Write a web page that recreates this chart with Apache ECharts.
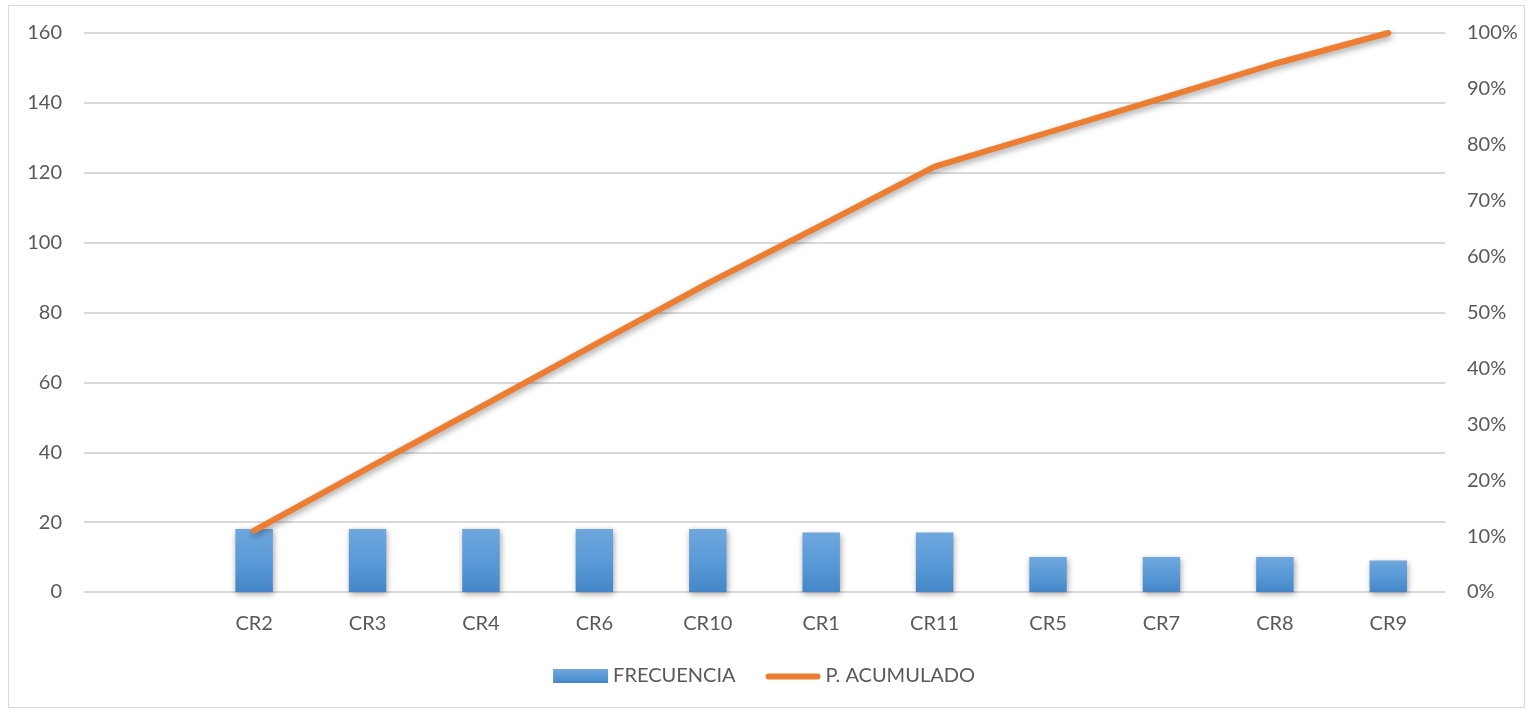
<!DOCTYPE html>
<html>
<head>
<meta charset="utf-8">
<script src="https://cdn.jsdelivr.net/npm/echarts@6/dist/echarts.min.js"></script>
<style>
  html, body { margin: 0; padding: 0; background: #fff; }
  #frame { position: absolute; left: 8px; top: 5px; width: 1517px; height: 703px; border: 1px solid #d9d9d9; box-sizing: border-box; }
  #chart { position: absolute; left: 0; top: 0; width: 1528px; height: 712px; }
</style>
</head>
<body>
<div id="frame"></div>
<div id="chart"></div>
<script>
// Pareto data: frequency per cause and cumulative share
const categories = ['', 'CR2', 'CR3', 'CR4', 'CR6', 'CR10', 'CR1', 'CR11', 'CR5', 'CR7', 'CR8', 'CR9'];
const frecuencia = [null, 18, 18, 18, 18, 18, 17, 17, 10, 10, 10, 9];
const acumulado = [null, 0.11, 0.221, 0.331, 0.442, 0.552, 0.656, 0.761, 0.822, 0.883, 0.945, 1.0];
const leftTicks = [0, 20, 40, 60, 80, 100, 120, 140, 160];
const rightTicks = [0, 0.1, 0.2, 0.3, 0.4, 0.5, 0.6, 0.7, 0.8, 0.9, 1.0];

const FONT = 'Lato, "Open Sans", sans-serif';
const TEXT = '#595959';
const SIZE = 20;

const chart = echarts.init(document.getElementById('chart'), null, { renderer: 'canvas' });
chart.setOption({
  animation: false,
  textStyle: { fontFamily: FONT },
  grid: { left: 84, right: 83, top: 33, bottom: 120 },
  legend: {
    bottom: 21,
    left: 'center',
    itemGap: 30,
    itemWidth: 55,
    itemHeight: 14,
    textStyle: { fontFamily: FONT, fontSize: SIZE, color: TEXT },
    data: [
      { name: 'FRECUENCIA', icon: 'rect' },
      {
        name: 'P. ACUMULADO',
        // rounded bar centred in a 56x14 box
        icon: 'path://M0,0 L0.01,0 L0.01,0.01 Z M0,14 L0.01,14 L0.01,13.99 Z M3,4.5 L53,4.5 A3,3 0 0 1 53,10.5 L3,10.5 A3,3 0 0 1 3,4.5 Z',
        itemStyle: { color: '#ED7D31' }
      }
    ]
  },
  xAxis: {
    type: 'category',
    data: categories,
    axisLine: { show: false },
    axisTick: { show: false },
    axisLabel: { color: TEXT, fontSize: SIZE, fontFamily: FONT, margin: 22 }
  },
  yAxis: [
    {
      type: 'value',
      min: leftTicks[0],
      max: leftTicks[leftTicks.length - 1],
      interval: 20,
      axisLine: { show: false },
      axisTick: { show: false },
      axisLabel: { color: TEXT, fontSize: SIZE, fontFamily: FONT, margin: 22 },
      splitLine: { lineStyle: { color: '#d9d9d9', width: 2 } }
    },
    {
      type: 'value',
      min: rightTicks[0],
      max: rightTicks[rightTicks.length - 1],
      interval: 0.1,
      axisLine: { show: false },
      axisTick: { show: false },
      splitLine: { show: false },
      axisLabel: {
        color: TEXT, fontSize: SIZE, fontFamily: FONT, margin: 22,
        formatter: v => Math.round(v * 100) + '%'
      }
    }
  ],
  series: [
    {
      name: 'FRECUENCIA',
      type: 'bar',
      data: frecuencia,
      barWidth: '33%',
      itemStyle: {
        color: new echarts.graphic.LinearGradient(0, 0, 0, 1, [
          { offset: 0, color: '#6FA7DD' },
          { offset: 0.5, color: '#5A9AD8' },
          { offset: 1, color: '#4486C7' }
        ]),
        shadowColor: 'rgba(0,0,0,0.35)',
        shadowBlur: 6,
        shadowOffsetX: 1,
        shadowOffsetY: 2
      }
    },
    {
      name: 'P. ACUMULADO',
      type: 'line',
      yAxisIndex: 1,
      data: acumulado,
      symbol: 'none',
      color: '#ED7D31',
      lineStyle: {
        color: '#ED7D31',
        width: 6,
        cap: 'round',
        join: 'round',
        shadowColor: 'rgba(0,0,0,0.35)',
        shadowBlur: 6,
        shadowOffsetX: 1,
        shadowOffsetY: 3
      }
    }
  ]
});
</script>
</body>
</html>
